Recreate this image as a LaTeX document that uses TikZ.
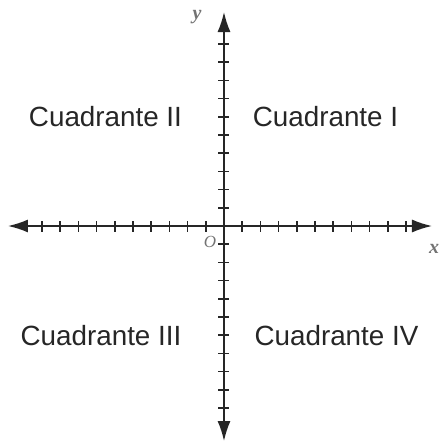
\documentclass[tikz,border=0pt]{standalone}
\usepackage{fontspec}
\setmainfont{Liberation Sans}
\newfontfamily\axfont{Liberation Serif}
\usetikzlibrary{arrows.meta}
\tikzset{
	axis/.style={line width=1.6pt, color=black!85, {Latex[length=20pt,width=13pt]}-{Latex[length=20pt,width=13pt]}},
	tick/.style={line width=1.5pt, color=black!85},
	quadlabel/.style={font=\fontsize{27.8}{30}\selectfont, text=black!85, inner sep=0pt},
	axlabel/.style={font=\axfont\bfseries\itshape\fontsize{20}{22}\selectfont, text=black!55, inner sep=0pt}
}
\begin{document}
\begin{tikzpicture}[x=1pt,y=1pt]
	\useasboundingbox (-224,-219) rectangle (218,226);
	% axes
	\draw[axis] (-216,0) -- (208,0);
	\draw[axis] (0,-215) -- (0,214);
	\foreach \k in {-10,...,-1,1,2,...,10} {
		\draw[tick] (\k*18.2,-5.5) -- (\k*18.2,5.5);
		\draw[tick] (-5.5,\k*18.2) -- (5.5,\k*18.2);
	}
	% labels
	\node[axlabel] (ylab) at (-27,209) {y};
	\node[axlabel] (xlab) at (210,-23) {x};
	\node[axlabel, font=\axfont\itshape\fontsize{17}{18}\selectfont] (olab) at (-14,-16) {O};
	\node[quadlabel] (q1) at (101.5,109) {Cuadrante I};
	\node[quadlabel] (q2) at (-118.5,109) {Cuadrante II};
	\node[quadlabel] (q3) at (-123,-109.5) {Cuadrante III};
	\node[quadlabel] (q4) at (112.5,-109.5) {Cuadrante IV};
\end{tikzpicture}
\end{document}
